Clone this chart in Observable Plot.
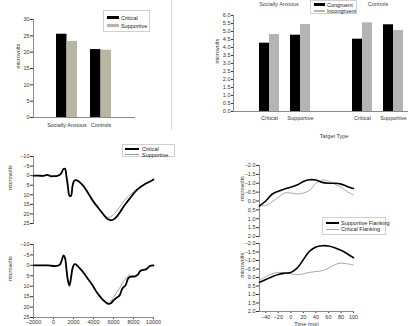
<!DOCTYPE html>
<html><head><meta charset="utf-8">
<script src="https://cdn.jsdelivr.net/npm/d3@7"></script>
<script src="https://cdn.jsdelivr.net/npm/@observablehq/plot@0.6"></script>
<style>
html,body{margin:0;padding:0;background:#fff;}
#root{position:relative;width:408px;height:326px;overflow:hidden;background:#fff;font-family:"Liberation Sans",Arial,sans-serif;}
.panel{position:absolute;}
.panel svg{display:block;}
.legend{position:absolute;border:1px solid #cfcfcf;background:#fff;box-sizing:border-box;}
.legend .sw{position:absolute;}
.legend .tx{position:absolute;font-size:5.5px;line-height:6px;color:#222;white-space:nowrap;}
.hdr{position:absolute;font-size:5.5px;line-height:6px;color:#444;white-space:nowrap;transform:translateX(-50%);}
</style></head><body><div id="root"></div><script>
// ---------- Panel A data ----------
const groupsA = ["Socially Anxious", "Controls"];
const seriesA = ["Critical", "Supportive"];
const criticalA = [25.5, 20.8];
const supportiveA = [23.3, 20.6];
const ticksA = [0, 5, 10, 15, 20, 25, 30];

// ---------- Panel B data ----------
const groupsB = ["Socially Anxious", "Controls"];
const targetTypesB = ["Critical", "Supportive"];
const seriesB = ["Congruent", "Incongruent"];
const congruentB = [4.27, 4.77, 4.52, 5.42];
const incongruentB = [4.81, 5.44, 5.54, 5.06];
const ticksB = [0, 0.5, 1, 1.5, 2, 2.5, 3, 3.5, 4, 4.5, 5, 5.5, 6];

// ---------- Panel C data ----------
const seriesC = ["Critical", "Supportive"];
const timeC = [-2000,-1500,-1000,-600,-300,0,300,600,800,1000,1150,1300,1450,1600,1750,1900,2050,2200,2400,2700,3000,3300,3600,3900,4200,4500,4800,5100,5400,5700,6000,6300,6600,6900,7200,7500,7800,8100,8400,8700,9000,9300,9600,10000];
const critical1C = [0,0,0.1,-0.4,0.3,0.3,0.2,-0.3,-1.5,-3.5,-3.6,0.5,6,10.5,10.5,5.5,2.8,2.3,2.6,3.8,5.5,7.8,10.3,12.8,15,17,19,21,22.7,23.2,22.9,21.6,19.5,17,14.8,12.8,10.8,8.8,7.2,5.9,4.9,4,3.2,2];
const supportive1C = [0,0,0.1,-0.4,0.3,0.3,0.2,-0.3,-1.5,-3.4,-3.5,0.6,6,10.3,10.4,5.4,2.8,2.3,2.6,3.8,5.4,7.7,10.2,12.7,14.9,16.8,18.9,20.8,21.7,21.5,20.4,18.6,16.5,14.2,12.2,10.6,9.3,8,6.9,5.8,4.9,4,3.2,2];
const critical2C = [0,0,0,0,0.1,0.3,0.3,-0.2,-2,-4.8,-3.5,2,7.5,9.7,6,1.5,-0.3,-0.6,0.3,1.8,3.5,5.5,7.5,9.5,12,14,15.8,17.2,18.3,18.3,16.8,15.5,14.5,11,9.6,6,5.4,5.4,4.6,2.6,2.2,1.8,0.4,0];
const supportive2C = [0,0,0,0,0.1,0.3,0.3,-0.2,-2,-4.7,-3.4,2,7.4,9.6,6,1.5,-0.3,-0.6,0.3,1.8,3.5,5.5,7.5,9.5,12,14,15.8,17.2,18,17.2,15.3,13,11,8.5,6.5,5,4.8,5,4.4,2.8,2.3,1.8,0.5,0];
const yTicksC = [-10, -5, 0, 5, 10, 15, 20, 25];
const xTicksC = [-2000, 0, 2000, 4000, 6000, 8000, 10000];

// ---------- Panel D data ----------
const seriesD = ["Supportive Flanking", "Critical Flanking"];
const timeD = [-50,-40,-30,-20,-10,0,10,20,30,40,50,60,70,80,90,100];
const supportive1D = [0.28,0,-0.38,-0.55,-0.68,-0.78,-0.9,-1.1,-1.2,-1.18,-1.05,-1.0,-1.0,-0.95,-0.82,-0.7];
const critical1D = [0.28,0.25,0.05,-0.2,-0.45,-0.45,-0.4,-0.45,-0.6,-1.0,-1.18,-1.12,-0.95,-0.78,-0.52,-0.34];
const supportive2D = [0.28,0.12,-0.05,-0.18,-0.25,-0.3,-0.55,-1.05,-1.55,-1.8,-1.87,-1.85,-1.75,-1.6,-1.4,-1.16];
const critical2D = [0.15,-0.05,-0.22,-0.3,-0.28,-0.22,-0.16,-0.22,-0.3,-0.35,-0.4,-0.55,-0.75,-0.85,-0.8,-0.74];
const yTicksD = [-2, -1.5, -1, -0.5, 0, 0.5, 1, 1.5, 2];
const xTicksD = [-40, -20, 0, 20, 40, 60, 80, 100];

// ---------- helpers ----------
const font = '"Liberation Sans", Arial, sans-serif';
const root = document.getElementById("root");
const axisColor = "#8a8a8a";
const baseStyle = {background: "transparent", fontSize: "5.5px", fontFamily: font, color: "#333", overflow: "visible"};
function place(node, left, top) {
  const d = document.createElement("div");
  d.className = "panel"; d.style.left = left + "px"; d.style.top = top + "px";
  d.appendChild(node); root.appendChild(d);
}
function yLabel(text, offset) {
  return Plot.text([text], {text: d => d, frameAnchor: "left", rotate: -90, dx: -offset, fontSize: 5.5, fill: "#333"});
}
function legend(left, top, w, h, rows) {
  const box = document.createElement("div");
  box.className = "legend";
  Object.assign(box.style, {left: left + "px", top: top + "px", width: w + "px", height: h + "px"});
  rows.forEach(r => {
    const sw = document.createElement("div");
    sw.className = "sw";
    Object.assign(sw.style, {left: r.sx + "px", top: (r.y - r.h / 2) + "px", width: r.sw + "px", height: r.h + "px", background: r.color});
    const tx = document.createElement("div");
    tx.className = "tx"; tx.textContent = r.label;
    Object.assign(tx.style, {left: r.tx + "px", top: (r.y - 3) + "px"});
    box.appendChild(sw); box.appendChild(tx);
  });
  root.appendChild(box);
}
function header(text, cx, top) {
  const d = document.createElement("div");
  d.className = "hdr"; d.textContent = text;
  d.style.left = cx + "px"; d.style.top = top + "px";
  root.appendChild(d);
}
const toRows = (xs, ys) => xs.map((x, i) => ({x, y: ys[i]}));

// ---------- Panel A ----------
const colorsA = ["#000000", "#b6b6a3"];
const dataA = groupsA.flatMap((g, i) => [
  {group: g, series: seriesA[0], value: criticalA[i]},
  {group: g, series: seriesA[1], value: supportiveA[i]}
]);
place(Plot.plot({
  width: 170, height: 140, marginLeft: 33, marginRight: 35, marginTop: 19, marginBottom: 23,
  style: baseStyle,
  x: {domain: groupsA, paddingInner: 0.382, paddingOuter: 0.691, tickSize: 0, tickPadding: 6, label: null},
  y: {domain: [0, 30], ticks: ticksA, tickSize: 3, tickPadding: 1, label: null},
  marks: [
    Plot.barY(dataA.filter(d => d.series === seriesA[0]), {x: "group", y: "value", fill: colorsA[0], insetRight: 10.5}),
    Plot.barY(dataA.filter(d => d.series === seriesA[1]), {x: "group", y: "value", fill: colorsA[1], insetLeft: 10.5}),
    Plot.ruleY([0], {stroke: axisColor}),
    Plot.frame({anchor: "left", stroke: axisColor}),
    yLabel("microvolts", 15)
  ]
}), 0, 0);
legend(103, 10, 47, 22, seriesA.map((s, i) => ({label: s, color: colorsA[i], sx: 3, sw: 12, h: 3, tx: 17, y: 6.5 + i * 8})));
const redLine = document.createElement("div");
Object.assign(redLine.style, {position: "absolute", left: "171px", top: "0px", width: "1px", height: "130px", background: "#f3c6c6"});
root.appendChild(redLine);

// ---------- Panel B ----------
const colorsB = ["#000000", "#b4b4b4"];
const keysB = [];
groupsB.forEach((g, gi) => {
  if (gi > 0) keysB.push("gap");
  targetTypesB.forEach(t => keysB.push(g + "|" + t));
});
const dataB = [];
groupsB.forEach((g, gi) => targetTypesB.forEach((t, ti) => {
  const k = gi * targetTypesB.length + ti;
  dataB.push({key: g + "|" + t, series: seriesB[0], value: congruentB[k]});
  dataB.push({key: g + "|" + t, series: seriesB[1], value: incongruentB[k]});
}));
place(Plot.plot({
  width: 208, height: 145, marginLeft: 33, marginRight: 0, marginTop: 15, marginBottom: 34,
  style: baseStyle,
  x: {domain: keysB, paddingInner: 0.36, paddingOuter: 0.48, align: 0.833, tickSize: 0, tickPadding: 5,
      tickFormat: k => k === "gap" ? "" : k.split("|")[1], label: null},
  y: {domain: [0, 6], ticks: ticksB, tickFormat: d3.format(".1f"), tickSize: 2, tickPadding: 1, label: null},
  marks: [
    Plot.barY(dataB.filter(d => d.series === seriesB[0]), {x: "key", y: "value", fill: colorsB[0], insetRight: 10}),
    Plot.barY(dataB.filter(d => d.series === seriesB[1]), {x: "key", y: "value", fill: colorsB[1], insetLeft: 10}),
    Plot.ruleY([0], {stroke: axisColor}),
    Plot.frame({anchor: "left", stroke: axisColor}),
    yLabel("microvolts", 16),
    Plot.text(["Target Type"], {text: d => d, frameAnchor: "bottom", dy: 26, dx: 13, fontSize: 5.5, fill: "#333"})
  ]
}), 200, 0);
legend(310, 0, 47, 14, seriesB.map((s, i) => ({label: s, color: colorsB[i], sx: 3, sw: 11, h: 2.5, tx: 16, y: 3.5 + i * 6.5})));
header(groupsB[0], 279, 0.5);
header(groupsB[1], 378, 0.5);

// ---------- Panel C ----------
const colorsC = ["#000000", "#9a9a9a"];
function panelC(crit, supp, showX, height, mt, mb) {
  return Plot.plot({
    width: 200, height, marginLeft: 33, marginRight: 47, marginTop: mt, marginBottom: mb,
    style: baseStyle,
    x: showX ? {domain: [-2000, 10000], ticks: xTicksC, tickFormat: d3.format("d"), tickSize: 2, tickPadding: 1, label: null}
             : {domain: [-2000, 10000], axis: null},
    y: {domain: [-10, 25], reverse: true, ticks: yTicksC, tickSize: 3, tickPadding: 1, label: null},
    marks: [
      Plot.frame({anchor: "left", stroke: axisColor}),
      showX ? Plot.frame({anchor: "bottom", stroke: axisColor}) : null,
      Plot.line(toRows(timeC, supp), {x: "x", y: "y", stroke: colorsC[1], strokeWidth: 0.9, curve: "catmull-rom"}),
      Plot.line(toRows(timeC, crit), {x: "x", y: "y", stroke: colorsC[0], strokeWidth: 1.8, curve: "catmull-rom"}),
      yLabel("microvolts", 23)
    ]
  });
}
place(panelC(critical1C, supportive1C, false, 85, 11, 7), 0, 145);
place(panelC(critical2C, supportive2C, true, 90, 8, 9), 0, 236);
legend(122, 144, 53, 13, seriesC.map((s, i) => ({label: s, color: colorsC[i], sx: 2, sw: 14, h: i === 0 ? 2 : 1, tx: 19, y: 3.5 + i * 6})));

// ---------- Panel D ----------
const colorsD = ["#000000", "#a8a8a8"];
function panelD(supp, crit, showX, height, mt, mb) {
  return Plot.plot({
    width: 208, height, marginLeft: 59, marginRight: 55, marginTop: mt, marginBottom: mb,
    style: baseStyle,
    x: showX ? {domain: [-50, 100], ticks: xTicksD, tickSize: 2, tickPadding: 2, label: null}
             : {domain: [-50, 100], axis: null},
    y: {domain: [-2, 2], reverse: true, ticks: yTicksD, tickFormat: d3.format(".1f"), tickSize: 3, tickPadding: 1, label: null},
    marks: [
      Plot.frame({anchor: "left", stroke: axisColor}),
      showX ? Plot.frame({anchor: "bottom", stroke: axisColor}) : null,
      showX ? Plot.text(["Time (ms)"], {text: d => d, frameAnchor: "bottom", dy: 14, fontSize: 5.5, fill: "#333"}) : null,
      Plot.line(toRows(timeD, crit), {x: "x", y: "y", stroke: colorsD[1], strokeWidth: 1, curve: "catmull-rom"}),
      Plot.line(toRows(timeD, supp), {x: "x", y: "y", stroke: colorsD[0], strokeWidth: 1.6, curve: "catmull-rom"}),
      yLabel("microvolts", 17)
    ]
  });
}
place(panelD(supportive1D, critical1D, false, 85, 10, 4), 200, 155);
place(panelD(supportive2D, critical2D, true, 91, 8, 15), 200, 235);
legend(322, 217, 64, 18, seriesD.map((s, i) => ({label: s, color: colorsD[i], sx: 3, sw: 13, h: i === 0 ? 1.6 : 1, tx: 18, y: 5 + i * 6})));
</script></body></html>
